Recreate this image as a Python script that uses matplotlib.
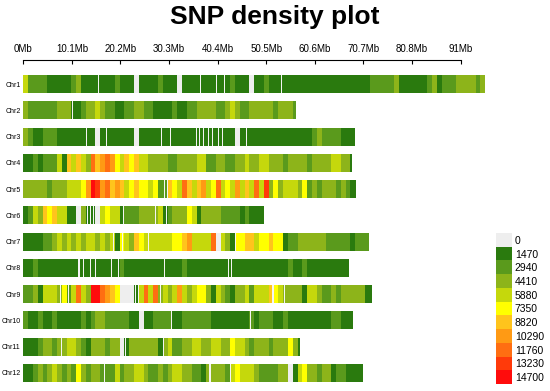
import numpy as np
import matplotlib
matplotlib.use("Agg")
import matplotlib.pyplot as plt
from matplotlib.colors import ListedColormap, BoundaryNorm

plt.rcParams['font.family'] = ['Liberation Sans', 'DejaVu Sans']

# legend bins (SNP count per 1Mb window)
legend_values = [0, 1470, 2940, 4410, 5880, 7350, 8820, 10290, 11760, 13230, 14700]
legend_colors = ["#eeeeee", "#2a7a0e", "#5a9a1c", "#8db41a", "#c5d80c", "#ffff00",
                 "#ffc41c", "#ff9a14", "#ff6e12", "#ff3a0a", "#ff0c0c"]

chr_names = ["Chr%d" % i for i in range(1, 13)]
chr_lengths = [96.0, 56.7, 69.2, 68.3, 69.2, 50.0, 71.9, 67.7, 72.5, 68.6, 57.6, 70.7]  # Mb

# density per 1Mb bin, one hex digit = index into legend_values
chr_bins = [
    "4222211111" "2311111112" "1110111121" "1101111111" "1112111011"
    "2111111111" "1111111111" "1122222311" "1111231222" "333323",
    "3222222333" "1123343221" "1223322111" "1211223333" "2234322333" "3323332",
    "3211222111" "1111101111" "1110111111" "1111111111" "1111011111"
    "1111111111" "232222111",
    "1121222416" "4643867875" "4656443333" "2233334422" "3322334334"
    "4333233332" "333344331",
    "3333323334" "4457a97867" "6456554522" "6548646745" "8454746484"
    "9353444352" "3233323211",
    "1243656441" "1031104544" "1222333341" "2333541333" "3222212111",
    "1111223434" "3434434341" "5436544444" "4556744448" "0431556645"
    "5655122333" "3332222212" "22",
    "1121111111" "1111111111" "2111111111" "1112111111" "1111111111"
    "1111121121" "11111111",
    "2231444352" "4843aa8765" "0001484834" "3474345531" "4321334244"
    "4654333314" "4322323333" "311",
    "2112112111" "1121233222" "2211011222" "2112222221" "1111111212"
    "2211211111" "111122111",
    "1112332334" "4321333233" "0133333313" "4223344334" "4335443233" "32333531",
    "1123234323" "2532332224" "2334432232" "3443322133" "3324544432"
    "2223301453" "32331221111",
]

# thin empty stretches (Mb) inside the chromosomes
chr_gaps = [
    [15.6, 36.8, 40.2, 41.9, 53.6],
    [10.3],
    [13.2, 17.2, 28.7, 30.5, 36.0, 36.7, 37.5, 38.5, 39.3, 40.5, 41.5, 46.4],
    [],
    [29.4, 30.0],
    [13.3, 14.0, 14.6, 20.8, 27.4, 29.8],
    [18.8, 20.7, 26.0, 44.1],
    [11.4, 11.7, 12.5, 13.9, 15.1, 18.4, 19.8, 29.4, 42.6, 43.3],
    [7.8, 9.4, 23.4, 24.0, 28.5, 51.9, 54.3],
    [30.9, 47.2],
    [7.9, 21.3, 29.1],
    [16.9, 38.8, 43.0],
]

tick_pos = [i * 10.1 for i in range(10)]
tick_labels = ["0Mb", "10.1Mb", "20.2Mb", "30.3Mb", "40.4Mb", "50.5Mb",
               "60.6Mb", "70.7Mb", "80.8Mb", "91Mb"]


def main():
    step = legend_values[1]
    cmap = ListedColormap(legend_colors)
    norm = BoundaryNorm((np.arange(len(legend_values) + 1) - 0.5) * step, cmap.N)

    fig = plt.figure(figsize=(5.5, 3.91), dpi=100)
    ax = fig.add_axes([23.3 / 550, 0, 466.7 / 550, 331 / 391])
    ax.set_xlim(0, 97)
    ax.set_ylim(11.69, -0.914)

    bar_h = 0.685
    for i, (s, length) in enumerate(zip(chr_bins, chr_lengths)):
        dens = np.array([int(c, 16) for c in s]) * step
        starts = np.arange(len(dens))
        widths = np.minimum(1.0, length - starts)
        ax.barh(i, widths, left=starts, height=bar_h, color=cmap(norm(dens)),
                linewidth=0, antialiased=False)
        g = np.array(chr_gaps[i])
        if len(g):
            ax.barh([i] * len(g), 0.22, left=g - 0.11, height=bar_h,
                    color="#f4f4f4", linewidth=0)

    for side in ["left", "right", "bottom"]:
        ax.spines[side].set_visible(False)
    ax.spines["top"].set_bounds(0, tick_pos[-1])
    ax.spines["top"].set_linewidth(0.8)
    ax.xaxis.tick_top()
    ax.set_xticks(tick_pos)
    ax.set_xticklabels(tick_labels, fontsize=7)
    ax.tick_params(axis="x", direction="in", length=3, width=0.8, pad=4)
    ax.set_yticks(range(len(chr_names)))
    ax.set_yticklabels(chr_names, fontsize=5)
    ax.tick_params(axis="y", length=0, pad=2)

    cax = fig.add_axes([496 / 550, 7 / 391, 16 / 550, 151 / 391])
    cax.imshow(np.array(legend_values).reshape(-1, 1), cmap=cmap, norm=norm,
               aspect="auto", interpolation="nearest")
    for side in cax.spines.values():
        side.set_visible(False)
    cax.set_xticks([])
    cax.yaxis.tick_right()
    cax.set_yticks(range(len(legend_values)))
    cax.set_yticklabels([str(v) for v in legend_values], fontsize=7.5)
    cax.tick_params(axis="y", length=0, pad=2)

    fig.text(0.5, 1 - 17 / 391, "SNP density plot", ha="center", va="center",
             fontsize=19, fontweight="bold")
    fig.savefig("out.png", dpi=100)
    plt.close()


if __name__ == "__main__":
    main()
